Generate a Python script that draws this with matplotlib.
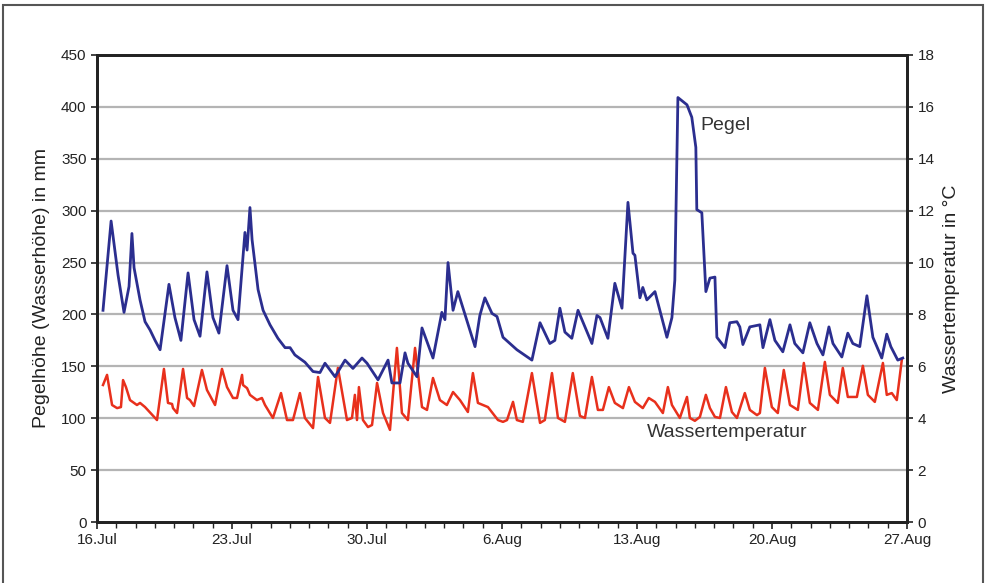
import numpy as np
import matplotlib.pyplot as plt
from matplotlib.patches import Rectangle

plt.rcParams['font.family'] = ['Liberation Sans', 'DejaVu Sans']

# Tage ab 16. Juli
tick_tage = [0, 7, 14, 21, 28, 35, 42]
tick_labels = ['16.Jul', '23.Jul', '30.Jul', '6.Aug', '13.Aug', '20.Aug', '27.Aug']

# Pegel (mm)
pegel_t = [0.31, 0.73, 1.09, 1.40, 1.66, 1.76, 1.81, 1.92, 2.23, 2.49, 2.75, 3.01, 3.27,
           3.73, 4.04, 4.35, 4.72, 5.03, 5.34, 5.70, 6.01, 6.32, 6.74, 7.05, 7.31, 7.67,
           7.78, 7.93, 8.04, 8.35, 8.61, 8.97, 9.38, 9.75, 10.01, 10.26, 10.78, 11.20,
           11.56, 11.82, 12.34, 12.86, 13.27, 13.74, 14.00, 14.57, 15.09, 15.29, 15.71,
           15.97, 16.12, 16.59, 16.85, 17.42, 17.88, 18.04, 18.20, 18.46, 18.71, 19.60,
           19.85, 20.11, 20.48, 20.74, 21.05, 21.77, 22.55, 22.97, 23.48, 23.74, 24.00,
           24.26, 24.62, 24.94, 25.66, 25.92, 26.08, 26.49, 26.85, 27.22, 27.53, 27.79,
           27.89, 28.15, 28.30, 28.51, 28.93, 29.55, 29.81, 29.96, 30.12, 30.59, 30.84,
           31.05, 31.10, 31.36, 31.57, 31.78, 32.04, 32.14, 32.56, 32.81, 33.18, 33.33,
           33.49, 33.85, 34.37, 34.53, 34.89, 35.15, 35.56, 35.93, 36.18, 36.60, 36.96,
           37.33, 37.64, 37.95, 38.16, 38.62, 38.93, 39.19, 39.55, 39.92, 40.23, 40.69,
           40.95, 41.16, 41.52, 41.78]
pegel_mm = [204, 290, 238, 202, 227, 260, 278, 245, 214, 193, 185, 175, 166,
            229, 197, 175, 240, 195, 179, 241, 197, 182, 247, 204, 195, 279,
            262, 303, 272, 224, 204, 190, 177, 168, 168, 161, 154, 145,
            144, 153, 140, 156, 148, 158, 153, 137, 156, 134, 134,
            163, 153, 140, 187, 158, 202, 195, 250, 204, 222, 169,
            199, 216, 201, 198, 178, 166, 156, 192, 172, 175, 206,
            183, 177, 204, 172, 199, 197, 177, 230, 206, 308, 259,
            257, 216, 226, 214, 222, 178, 197, 233, 409, 402, 390,
            361, 301, 298, 222, 235, 236, 178, 168, 192, 193, 188,
            171, 188, 190, 168, 195, 175, 164, 190, 172, 163, 192,
            172, 161, 188, 172, 159, 182, 172, 169, 218, 178, 158,
            181, 169, 156, 158]

# Wassertemperatur (°C)
temp_t = [0.31, 0.52, 0.78, 1.04, 1.24, 1.35, 1.50, 1.71, 2.07, 2.23, 2.49, 3.11, 3.47,
          3.68, 3.89, 3.94, 4.15, 4.46, 4.67, 4.82, 5.03, 5.44, 5.70, 6.12, 6.48, 6.74,
          7.05, 7.26, 7.52, 7.57, 7.78, 7.93, 8.29, 8.55, 8.71, 9.12, 9.54, 9.85, 10.16,
          10.52, 10.78, 10.94, 11.20, 11.46, 11.82, 12.08, 12.49, 12.96, 13.22, 13.37, 13.48,
          13.58, 13.79, 14.05, 14.26, 14.52, 14.83, 15.19, 15.55, 15.81, 16.12, 16.49, 16.85, 17.11,
          17.42, 17.78, 18.14, 18.46, 18.82, 19.23, 19.49, 19.75, 20.27, 20.79, 21.05,
          21.26, 21.57, 21.77, 22.08, 22.55, 22.97, 23.22, 23.59, 23.90, 24.26, 24.67,
          25.04, 25.30, 25.66, 25.97, 26.23, 26.54, 26.85, 27.27, 27.58, 27.89, 28.30,
          28.61, 28.93, 29.34, 29.60, 29.81, 30.22, 30.59, 30.74, 31.00, 31.26, 31.57,
          31.78, 32.04, 32.30, 32.61, 32.92, 33.18, 33.59, 33.85, 34.22, 34.37, 34.63,
          34.99, 35.30, 35.61, 35.93, 36.34, 36.65, 36.96, 37.38, 37.74, 38.00, 38.41,
          38.67, 38.93, 39.40, 39.71, 39.97, 40.33, 40.75, 40.95, 41.21, 41.47, 41.73]
temp_c = [5.28, 5.67, 4.51, 4.39, 4.43, 5.47, 5.20, 4.70, 4.51, 4.59, 4.43, 3.93, 5.90,
          4.59, 4.55, 4.39, 4.20, 5.90, 4.78, 4.70, 4.47, 5.86, 5.09, 4.51, 5.90, 5.20,
          4.78, 4.78, 5.67, 5.28, 5.16, 4.90, 4.70, 4.78, 4.51, 4.01, 4.97, 3.93, 3.93,
          4.97, 4.01, 3.86, 3.62, 5.59, 4.01, 3.82, 5.94, 3.93, 4.01, 4.90, 3.93,
          5.20, 3.93, 3.66, 3.74, 5.36, 4.20, 3.55, 6.71, 4.20, 3.93, 6.71, 4.43, 4.32,
          5.55, 4.70, 4.51, 5.01, 4.70, 4.24, 5.74, 4.59, 4.43, 3.93, 3.86,
          3.93, 4.63, 3.93, 3.86, 5.74, 3.82, 3.93, 5.74, 4.01, 3.86, 5.74,
          4.09, 4.01, 5.59, 4.32, 4.32, 5.20, 4.59, 4.39, 5.20, 4.63, 4.39,
          4.78, 4.63, 4.20, 5.20, 4.51, 4.01, 4.82, 4.01, 3.90, 4.05, 4.90,
          4.39, 4.05, 4.01, 5.20, 4.24, 4.01, 4.97, 4.32, 4.12, 4.20, 5.94,
          4.43, 4.20, 5.86, 4.51, 4.32, 6.13, 4.59, 4.32, 6.17, 4.90, 4.59,
          5.94, 4.82, 4.82, 6.02, 4.90, 4.63, 6.13, 4.90, 4.97, 4.70, 6.25]

fig = plt.figure(figsize=(9.86, 5.83), dpi=100)
ax = fig.add_axes([0.0984, 0.1046, 0.8215, 0.8011])
ax2 = ax.twinx()

ax.set_zorder(ax2.get_zorder() + 1)
ax.patch.set_visible(False)

for y in np.arange(50, 451, 50):
    ax2.axhline(y / 25, color='#b4b4b4', lw=1.6, zorder=0)

ax.plot(pegel_t, pegel_mm, color='#2b2e8f', lw=2.0, zorder=3)
ax2.plot(temp_t, temp_c, color='#e8301c', lw=1.8, zorder=2)

ax.set_xlim(0, 42)
ax.set_ylim(0, 450)
ax2.set_ylim(0, 18)
ax.set_yticks(np.arange(0, 451, 50))
ax2.set_yticks(np.arange(0, 19, 2))
ax.set_xticks(tick_tage)
ax.set_xticklabels(tick_labels)
ax.set_xticks(np.arange(0, 43, 1), minor=True)

for a in (ax, ax2):
    for s in a.spines.values():
        s.set_linewidth(2.0)
        s.set_color('#222222')
ax.tick_params(axis='x', which='major', length=5, width=1.2, labelsize=11, pad=3, colors='#222222')
ax.tick_params(axis='x', which='minor', length=4, width=1.0, colors='#222222')
ax.tick_params(axis='y', length=4, width=1.2, labelsize=11, colors='#222222')
ax2.tick_params(axis='y', length=4, width=1.2, labelsize=11, colors='#222222')

ax.set_ylabel('Pegelhöhe (Wasserhöhe) in mm', fontsize=14, color='#222222', labelpad=8)
ax2.set_ylabel('Wassertemperatur in °C', fontsize=14, color='#222222', labelpad=6)

ax.text(31.3, 378, 'Pegel', fontsize=14, color='#333333')
ax.text(28.5, 82, 'Wassertemperatur', fontsize=14, color='#333333')

fig.patches.append(Rectangle((0.003, -0.01), 0.994, 1.001, transform=fig.transFigure,
                             fill=False, edgecolor='#555555', lw=1.5))

fig.savefig('out.png', dpi=100)
